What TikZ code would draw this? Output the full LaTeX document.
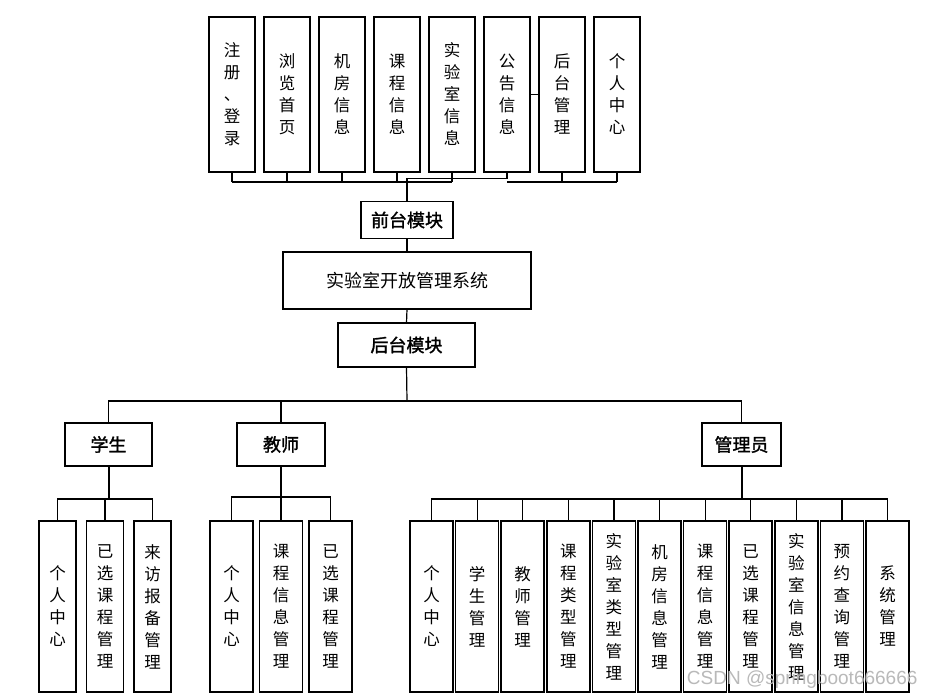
\documentclass[tikz,border=0pt]{standalone}
\usepackage{fontspec}
\setmainfont{Noto Sans CJK SC}
\setsansfont{Liberation Sans}
\newfontfamily\groupfont[FakeBold=1.6]{Noto Sans CJK SC}
\usetikzlibrary{positioning}

\begin{document}
\begin{tikzpicture}[x=1pt, y=-1pt, node distance=9pt]
  \tikzstyle{box}=[draw, line width=1.5pt, fill=white, inner sep=0pt, outer sep=0pt]
  \tikzstyle{leaf}=[box, align=center, font=\fontsize{16.5}{22}\selectfont]
  \tikzstyle{topleaf}=[leaf, minimum width=46, minimum height=155]
  \tikzstyle{stuleaf}=[leaf, minimum width=37, minimum height=171]
  \tikzstyle{tealeaf}=[leaf, minimum width=43, minimum height=171]
  \tikzstyle{admleaf}=[leaf, minimum width=43, minimum height=171]
  \tikzstyle{group}=[box, minimum height=43, font=\fontsize{18}{20}\groupfont]
  \tikzstyle{link}=[line width=1.2pt]
  \tikzstyle{trunk}=[line width=2pt]
  \useasboundingbox (0,0) rectangle (935,699);

  % front end pages
  \node[topleaf] (reg) at (232,94.5) {注\\册\\、\\登\\录};
  \node[topleaf, right=of reg] (browse) {浏\\览\\首\\页};
  \node[topleaf, right=of browse] (room) {机\\房\\信\\息};
  \node[topleaf, right=of room] (course) {课\\程\\信\\息};
  \node[topleaf, right=of course] (lab) {实\\验\\室\\信\\息};
  \node[topleaf, right=of lab] (notice) {公\\告\\信\\息};
  \node[topleaf, right=of notice] (admin) {后\\台\\管\\理};
  \node[topleaf, right=of admin] (center) {个\\人\\中\\心};

  % modules
  \node[group, minimum width=92, minimum height=37] (front) at (407,220) {前台模块};
  \node[box, minimum width=248, minimum height=57, font=\fontsize{18}{20}\selectfont] (sys) at (407,280.5) {实验室开放管理系统};
  \node[group, minimum width=137, minimum height=44] (back) at (406.5,345) {后台模块};

  % roles
  \node[group, minimum width=87] (stu) at (108.5,444.5) {学生};
  \node[group, minimum width=88] (tea) at (281,444.5) {教师};
  \node[group, minimum width=79] (adm) at (741.5,444.5) {管理员};

  % student pages
  \node[stuleaf] (s1) at (57.5,606.5) {个\\人\\中\\心};
  \node[stuleaf, right=10.5pt of s1] (s2) {已\\选\\课\\程\\管\\理};
  \node[stuleaf, right=10.5pt of s2] (s3) {来\\访\\报\\备\\管\\理};

  % teacher pages
  \node[tealeaf] (t1) at (231.5,606.5) {个\\人\\中\\心};
  \node[tealeaf, right=6.5pt of t1] (t2) {课\\程\\信\\息\\管\\理};
  \node[tealeaf, right=6.5pt of t2] (t3) {已\\选\\课\\程\\管\\理};

  % admin pages
  \node[admleaf] (a1) at (431.5,606.5) {个\\人\\中\\心};
  \node[admleaf, right=2.6pt of a1] (a2) {学\\生\\管\\理};
  \node[admleaf, right=2.6pt of a2] (a3) {教\\师\\管\\理};
  \node[admleaf, right=2.6pt of a3] (a4) {课\\程\\类\\型\\管\\理};
  \node[admleaf, right=2.6pt of a4] (a5) {实\\验\\室\\类\\型\\管\\理};
  \node[admleaf, right=2.6pt of a5] (a6) {机\\房\\信\\息\\管\\理};
  \node[admleaf, right=2.6pt of a6] (a7) {课\\程\\信\\息\\管\\理};
  \node[admleaf, right=2.6pt of a7] (a8) {已\\选\\课\\程\\管\\理};
  \node[admleaf, right=2.6pt of a8] (a9) {实\\验\\室\\信\\息\\管\\理};
  \node[admleaf, right=2.6pt of a9] (a10) {预\\约\\查\\询\\管\\理};
  \node[admleaf, right=2.6pt of a10] (a11) {系\\统\\管\\理};

  % bus coordinates
  \coordinate (topbus) at (407,182);
  \coordinate (rolebus) at (407,401);
  \coordinate (sbus) at (108.5,499);
  \coordinate (tbus) at (281,497);
  \coordinate (abus) at (741.5,499);

  % front end links
  \foreach \n in {reg,browse,room,course,lab}
    \draw[link] (\n.south) -- (\n.south |- topbus);
  \draw[link] (reg.south |- topbus) -- (lab.south |- topbus);
  \draw[link] (notice.south) -- ++(0,6.7) -| (front.north);
  \foreach \n in {admin,center}
    \draw[link] (\n.south) -- (\n.south |- topbus);
  \draw[link] (notice.south |- topbus) -- (center.south |- topbus);
  \draw[link] (notice.east) -- (admin.west);

  % main chain
  \draw[link] (front.south) -- (sys.north);
  \draw[link] (sys.south) -- (back.north);
  \draw[link] (back.south) -- (rolebus);
  \draw[link] (stu.north) |- (rolebus) -| (adm.north);
  \draw[link] (tea.north) -- (tea.north |- rolebus);

  % student links
  \draw[trunk] (stu.south) -- (sbus);
  \draw[link] (s1.north) |- (sbus) -| (s3.north);
  \draw[link] (s2.north) -- (s2.north |- sbus);

  % teacher links
  \draw[link] (tea.south) -- (t2.north |- tbus);
  \draw[link] (t1.north) |- (tbus) -| (t3.north);
  \draw[link] (t2.north) -- (t2.north |- tbus);

  % admin links
  \draw[trunk] (adm.south) -- (abus);
  \draw[link] (a1.north) |- (abus) -| (a11.north);
  \foreach \n in {a2,a3,a4,a5,a6,a7,a8,a9,a10}
    \draw[link] (\n.north) -- (\n.north |- abus);

  \node[font=\fontsize{19}{20}\selectfont\sffamily, text=gray!55, anchor=east] (mark) at (921,680) {CSDN @springboot666666};
\end{tikzpicture}
\end{document}
